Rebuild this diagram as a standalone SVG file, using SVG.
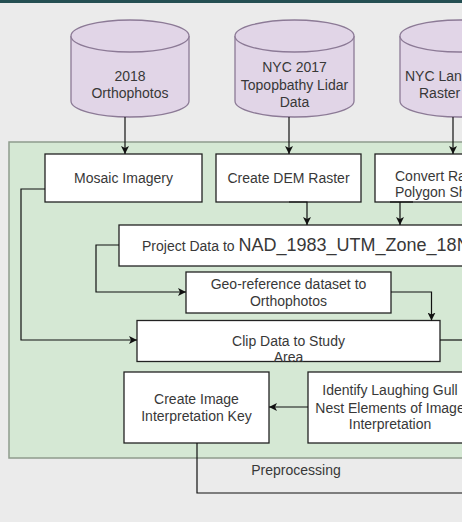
<svg xmlns="http://www.w3.org/2000/svg" width="462" height="522" viewBox="0 0 462 522">
<defs>
<marker id="arr" viewBox="0 0 10 10" refX="10" refY="5" markerWidth="8" markerHeight="8" markerUnits="userSpaceOnUse" orient="auto">
<path d="M0,0 L10,5 L0,10 L2.5,5 Z" fill="#111"/>
</marker>
<style>
.t{font-family:"Liberation Sans",Arial,sans-serif;font-size:14px;fill:#383838;text-anchor:middle}
.ts{font-family:"Liberation Sans",Arial,sans-serif;font-size:14px;fill:#383838}
.cyl{fill:#e1d5e7;stroke:#8c7a96;stroke-width:1.3}
.box{fill:#fff;stroke:#222;stroke-width:1.3}
.e{fill:none;stroke:#111;stroke-width:1.2}
</style>
</defs>
<rect x="0" y="0" width="462" height="522" fill="#ebebeb"/>
<rect x="0" y="0" width="462" height="3" fill="#244f52"/>
<rect id="container" x="9" y="142" width="470" height="316" fill="#d5e8d4" stroke="#8f9c8d" stroke-width="1.5"/>

<g id="cyl1">
<path class="cyl" d="M71,36 A59,16 0 0 1 189,36 V101 A59,16 0 0 1 71,101 Z"/>
<path class="cyl" fill="none" d="M71,36 A59,16 0 0 0 189,36"/>
<text class="t" x="130" y="81">2018</text>
<text class="t" x="130" y="98">Orthophotos</text>
</g>
<g id="cyl2">
<path class="cyl" d="M235,36 A59.5,16 0 0 1 354,36 V101 A59.5,16 0 0 1 235,101 Z"/>
<path class="cyl" fill="none" d="M235,36 A59.5,16 0 0 0 354,36"/>
<text class="t" x="294.5" y="72">NYC 2017</text>
<text class="t" x="294.5" y="90">Topopbathy Lidar</text>
<text class="t" x="294.5" y="107">Data</text>
</g>
<g id="cyl3">
<path class="cyl" d="M400,36 A59.5,16 0 0 1 519,36 V101 A59.5,16 0 0 1 400,101 Z"/>
<path class="cyl" fill="none" d="M400,36 A59.5,16 0 0 0 519,36"/>
<text class="ts" x="405" y="81">NYC Lan</text>
<text class="ts" x="419" y="98">Raster</text>
</g>

<g id="mosaic">
<rect class="box" x="45" y="154" width="157" height="48"/>
<text class="t" x="123.5" y="183">Mosaic Imagery</text>
</g>
<g id="dem">
<rect class="box" x="216" y="154" width="145" height="48"/>
<text class="t" x="288.5" y="183">Create DEM Raster</text>
</g>
<g id="convert">
<rect class="box" x="375" y="154" width="150" height="48"/>
<text class="ts" x="395" y="181">Convert Ra</text>
<text class="ts" x="395" y="197">Polygon Sh</text>
</g>
<g id="project">
<rect class="box" x="119" y="225" width="360" height="41"/>
<text class="ts" x="142" y="251">Project Data to <tspan font-size="18">NAD_1983_UTM_Zone_18N</tspan></text>
</g>
<g id="georef">
<rect class="box" x="186" y="272" width="205" height="41"/>
<text class="t" x="288.5" y="289">Geo-reference dataset to</text>
<text class="t" x="288.5" y="306">Orthophotos</text>
</g>
<g id="clip">
<rect class="box" x="137" y="320.5" width="303" height="41"/>
<text class="t" x="288.5" y="346">Clip Data to Study</text>
<text class="t" x="288.5" y="362">Area</text>
</g>
<g id="key">
<rect class="box" x="124" y="372" width="145" height="71"/>
<text class="t" x="196.5" y="404">Create Image</text>
<text class="t" x="196.5" y="421">Interpretation Key</text>
</g>
<g id="identify">
<rect class="box" x="308" y="372" width="168" height="71"/>
<text class="t" x="390" y="395">Identify Laughing Gull</text>
<text class="t" x="390" y="413">Nest Elements of Image</text>
<text class="t" x="390" y="429">Interpretation</text>
</g>

<g id="connectors">
<path class="e" marker-end="url(#arr)" d="M125,117 V154"/>
<path class="e" marker-end="url(#arr)" d="M289,117 V154"/>
<path class="e" marker-end="url(#arr)" d="M453,117 V154"/>
<path class="e" marker-end="url(#arr)" d="M289,202 H307 V225"/>
<path class="e" d="M390,202 H413"/>
<path class="e" marker-end="url(#arr)" d="M400,202 V225"/>
<path class="e" marker-end="url(#arr)" d="M45,189 H21 V340 H137"/>
<path class="e" marker-end="url(#arr)" d="M119,245 H96 V292 H186"/>
<path class="e" marker-end="url(#arr)" d="M391,292 H431.5 V320.5"/>
<path class="e" d="M440,340 H462"/>
<path class="e" marker-end="url(#arr)" d="M308,407 H269"/>
<path class="e" d="M197,443 V493 H462"/>
</g>
<text id="preprocessing" class="t" x="296" y="475">Preprocessing</text>
</svg>
